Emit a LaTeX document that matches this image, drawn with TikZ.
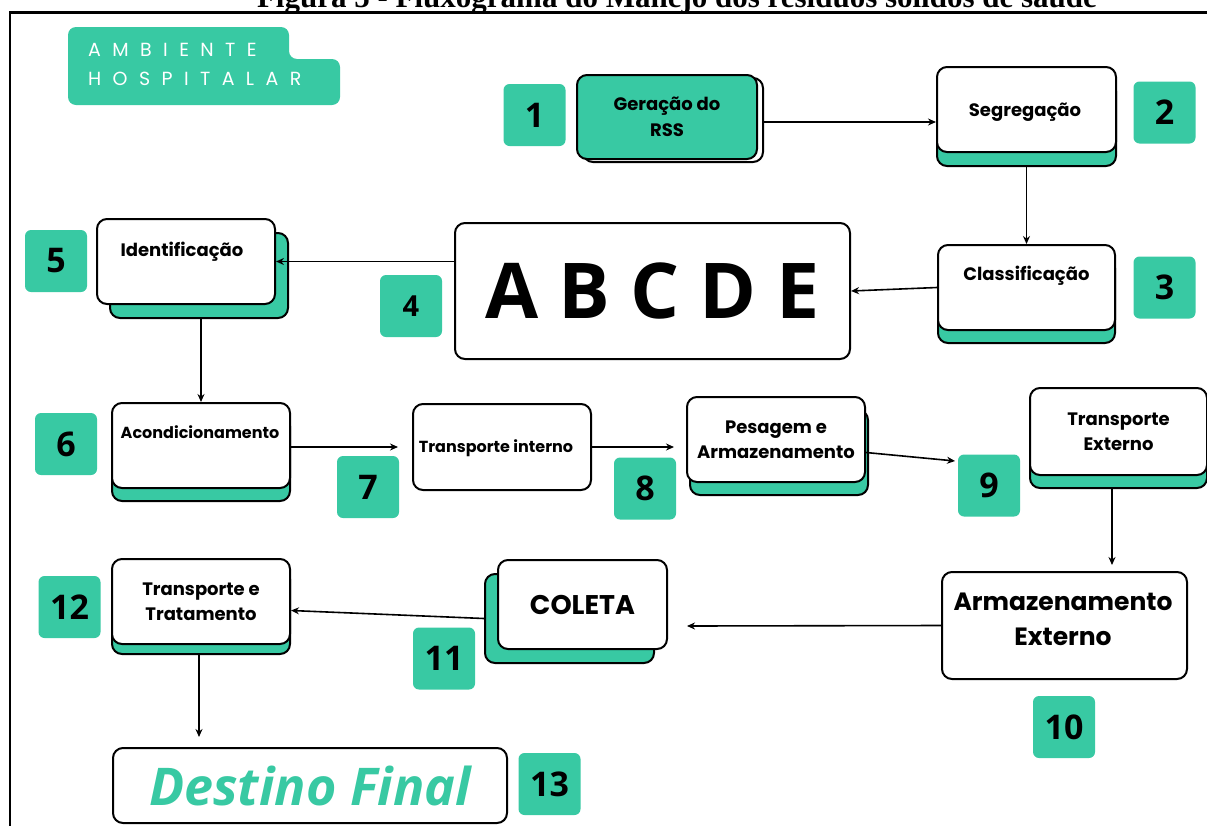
\documentclass[tikz,border=0pt]{standalone}
\usepackage{fontspec}
\setmainfont{Liberation Serif}
\newfontfamily\popfont{Poppins}
\newfontfamily\ambfont[LetterSpace=60]{Poppins}
\newfontfamily\osfont{Open Sans}
\usetikzlibrary{arrows.meta}
\definecolor{teal1}{RGB}{56,201,163}
\tikzset{
  box/.style={draw=black, line width=2pt, rounded corners=10pt, fill=white, inner sep=0pt},
  shad/.style={box, fill=teal1},
  num/.style={fill=teal1, rounded corners=6pt, minimum width=62pt, minimum height=62pt, inner sep=0pt, font=\osfont\bfseries\fontsize{34}{34}\selectfont},
  lbl/.style={font=\popfont\bfseries\fontsize{18}{25.5}\selectfont, align=center, inner sep=0pt},
  lbls/.style={font=\popfont\bfseries\fontsize{16}{24}\selectfont, align=center, inner sep=0pt},
  big/.style={font=\popfont\bfseries\fontsize{25}{35}\selectfont, align=center, inner sep=0pt},
  arr/.style={-{Stealth[length=8pt,width=7pt]}, line width=1.6pt},
  amb/.style={anchor=base west, text=white, inner sep=0pt, font=\ambfont\fontsize{19}{19}\selectfont},
}
\begin{document}
\begin{tikzpicture}[x=1pt,y=-1pt]
\useasboundingbox (0,0) rectangle (1207,825);
% title and frame
\node[anchor=base, inner sep=0pt, font=\bfseries\fontsize{31}{31}\selectfont] (title) at (677,7.5) {Figura 5 - Fluxograma do Manejo dos resíduos sólidos de saúde};
\draw[line width=3pt] (1215,12.5) -- (9,12.5);
\draw[line width=2pt] (10,11) -- (10,830);
% ambiente hospitalar tag
\fill[teal1, rounded corners=8pt] (68,105) -- (68,27) -- (289,27) -- (289,59) -- (340,59) -- (340,105) -- cycle;
\node[amb] (amb1) at (88,56.5) {AMBIENTE};
\node[amb] (amb2) at (88,85) {HOSPITALAR};

% 1
\node[box, minimum width=180pt, minimum height=84pt] (s1) at (673,120) {};
\node[shad, lbl, minimum width=180pt, minimum height=84pt] (b1) at (667,117) {Geração do\\RSS};
\node[num] (n1) at (534.5,115) {1};
% 2
\node[shad, minimum width=179pt, minimum height=85pt] (s2) at (1026.5,123.5) {};
\node[box, minimum width=179pt, minimum height=85pt] (b2) at (1026.5,109.5) {};
\node[lbl] (t2) at (1025,112) {Segregação};
\node[num] (n2) at (1164.5,112.5) {2};
% 3
\node[shad, minimum width=177pt, minimum height=85pt] (s3) at (1026.5,300.5) {};
\node[box, minimum width=177pt, minimum height=85pt] (b3) at (1026.5,287.5) {};
\node[lbl] (t3) at (1026.5,276) {Classificação};
\node[num] (n3) at (1164.5,287.5) {3};
% 4
\node[box, minimum width=395pt, minimum height=136pt, font=\osfont\bfseries\fontsize{77}{77}\selectfont] (b4) at (652.5,291) {A B C D E};
\node[num, font=\osfont\bfseries\fontsize{29}{29}\selectfont] (n4) at (411,306) {4};
% 5
\node[shad, minimum width=178pt, minimum height=85pt] (s5) at (199,275.5) {};
\node[box, minimum width=178pt, minimum height=85pt] (b5) at (186,261.5) {};
\node[lbl] (t5) at (182,252) {Identificação};
\node[num] (n5) at (56,261) {5};
% 6
\node[shad, minimum width=178pt, minimum height=85pt] (s6) at (201,458.5) {};
\node[box, minimum width=178pt, minimum height=85pt] (b6) at (201,445.5) {};
\node[lbls] (t6) at (200,432) {Acondicionamento};
\node[num] (n6) at (66,444) {6};
% 7
\node[box, minimum width=178pt, minimum height=86pt] (b7) at (502,447) {};
\node[lbls] (t7) at (496,448) {Transporte interno};
\node[num] (n7) at (368,487) {7};
% 8
\node[shad, minimum width=178pt, minimum height=85pt] (s8) at (779,452.5) {};
\node[box, lbl, minimum width=178pt, minimum height=85pt] (b8) at (776,439.5) {Pesagem e\\Armazenamento};
\node[num] (n8) at (645,488.5) {8};
% 9
\node[shad, minimum width=177pt, minimum height=87pt] (s9) at (1118.5,444.5) {};
\node[box, lbl, minimum width=177pt, minimum height=87pt] (b9) at (1118.5,431.5) {Transporte\\Externo};
\node[num] (n9) at (989,485.5) {9};
% 10
\node[box, minimum width=245pt, minimum height=107pt] (b10) at (1064.5,625.5) {};
\node[big] (t10) at (1063,619.5) {Armazenamento\\Externo};
\node[num] (n10) at (1064,727) {10};
% 11
\node[shad, minimum width=169pt, minimum height=89pt] (s11) at (569.5,618.5) {};
\node[box, minimum width=169pt, minimum height=89pt, font=\popfont\bfseries\fontsize{27}{27}\selectfont] (b11) at (582.5,604.5) {COLETA};
\node[num] (n11) at (444,658.5) {11};
% 12
\node[shad, minimum width=178pt, minimum height=85pt] (s12) at (201,611.5) {};
\node[box, lbl, minimum width=178pt, minimum height=85pt] (b12) at (201,601.5) {Transporte e\\Tratamento};
\node[num] (n12) at (69.5,607) {12};
% 13
\node[box, minimum width=394pt, minimum height=75pt, text=teal1, font=\osfont\bfseries\itshape\fontsize{52}{52}\selectfont] (b13) at (310,785.5) {Destino Final};
\node[num] (n13) at (549.5,784) {13};

% connectors
\coordinate (a9) at (955,461);
\coordinate (a10) at (1112,565);
\coordinate (a11) at (687,626);
\coordinate (a13) at (199,737);
\draw[arr] ([yshift=-2pt]s1.east) -- ([yshift=-2pt]s1.east -| b2.west);
\draw[arr] (s2.south) -- (b3.north);
\draw[arr] (b3.west) -- (b4.east);
\draw[arr] (b5.east -| b4.west) -- (b5.east);
\draw[arr] (b6.north |- s5.south) -- (b6.north);
\draw[arr] (b6.east |- b7.west) -- ([xshift=-14pt]b7.west);
\draw[arr] (b7.east) -- ([xshift=-12pt]b8.west |- b7.east);
\draw[arr] ([yshift=-13pt]b8.east) -- (a9);
\draw[arr] (a10 |- s9.south) -- (a10);
\draw[arr] (b10.west) -- (a11);
\draw[arr] (s11.west) -- ([yshift=-9pt]b12.east);
\draw[arr] (a13 |- s12.south) -- (a13);
\end{tikzpicture}
\end{document}
